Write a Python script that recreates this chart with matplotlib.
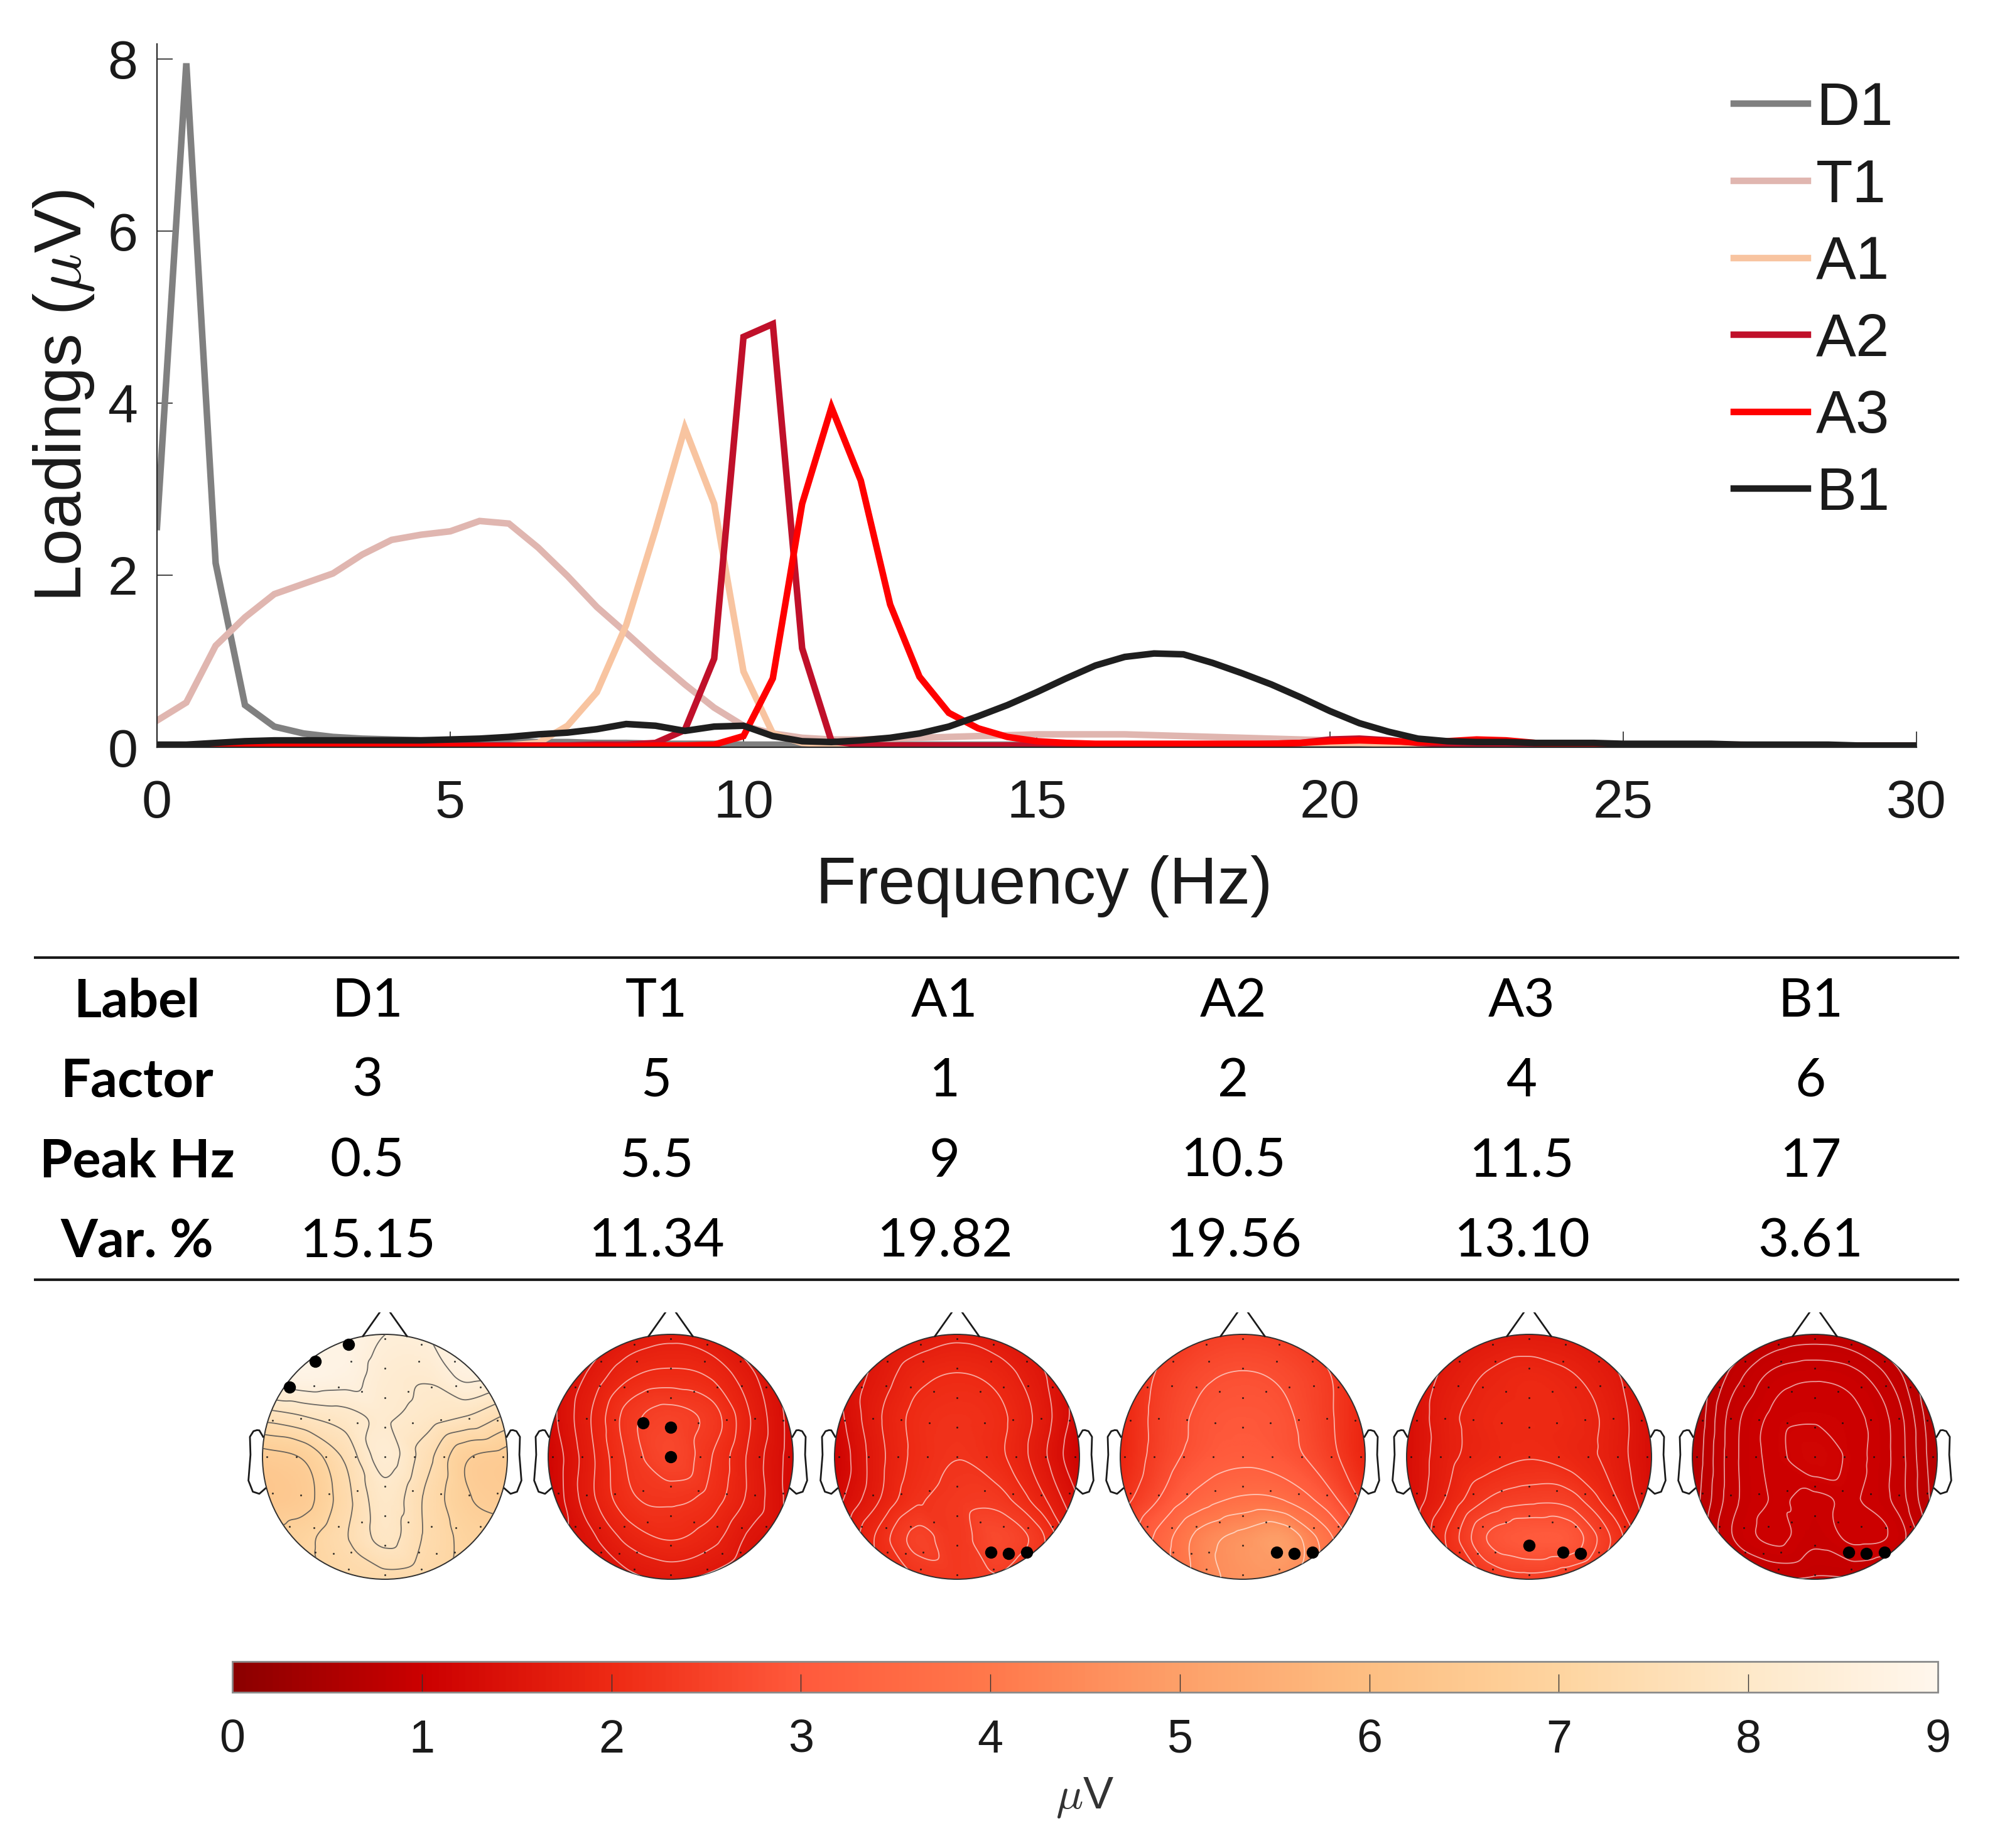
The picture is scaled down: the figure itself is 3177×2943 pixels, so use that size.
import numpy as np
import matplotlib
matplotlib.use('Agg')
import matplotlib.pyplot as plt
import matplotlib.tri as mtri
from matplotlib.colors import LinearSegmentedColormap, Normalize
from matplotlib.cm import ScalarMappable
from matplotlib.patches import Circle

W, H = 3177, 2943
plt.rcParams['font.family'] = ['Liberation Sans', 'DejaVu Sans']
plt.rcParams['mathtext.fontset'] = 'cm'

# ---------------- data ----------------
freq = np.arange(0, 30.01, 0.5)
series_names = ['D1', 'T1', 'A1', 'A2', 'A3', 'B1']
series_colors = ['#808080', '#e0b6b0', '#f8c4a0', '#c0102a', '#ff0000', '#1e1e1e']

D1 = [2.56, 7.95, 2.14, 0.49, 0.24, 0.16, 0.12, 0.10, 0.09, 0.08,
      0.08, 0.07, 0.07, 0.06, 0.06, 0.05, 0.05, 0.04, 0.04, 0.04,
      0.03, 0.03, 0.03, 0.03, 0.03, 0.03, 0.03, 0.03, 0.03, 0.03,
      0.03, 0.03, 0.03, 0.03, 0.03, 0.03, 0.03, 0.03, 0.03, 0.02,
      0.02, 0.02, 0.02, 0.02, 0.02, 0.02, 0.02, 0.02, 0.02, 0.02,
      0.02, 0.02, 0.02, 0.02, 0.02, 0.02, 0.01, 0.01, 0.01, 0.01, 0.01]
T1 = [0.31, 0.52, 1.18, 1.51, 1.78, 1.90, 2.02, 2.24, 2.41, 2.47,
      2.51, 2.63, 2.60, 2.32, 1.99, 1.63, 1.33, 1.02, 0.73, 0.46,
      0.25, 0.16, 0.11, 0.09, 0.09, 0.10, 0.11, 0.12, 0.13, 0.14,
      0.15, 0.15, 0.15, 0.15, 0.14, 0.13, 0.12, 0.11, 0.10, 0.09,
      0.08, 0.07, 0.06, 0.05, 0.05, 0.04, 0.04, 0.04, 0.04, 0.03,
      0.03, 0.03, 0.03, 0.03, 0.03, 0.02, 0.02, 0.02, 0.02, 0.02, 0.02]
A1 = [0.01, 0.01, 0.01, 0.01, 0.01, 0.01, 0.01, 0.01, 0.01, 0.01,
      0.01, 0.01, 0.02, 0.05, 0.25, 0.64, 1.42, 2.53, 3.71, 2.83,
      0.88, 0.16, 0.05, 0.03, 0.02, 0.02, 0.02, 0.02, 0.02, 0.02,
      0.02, 0.02, 0.02, 0.02, 0.02, 0.02, 0.02, 0.03, 0.04, 0.05,
      0.05, 0.05, 0.04, 0.03, 0.02, 0.02, 0.02, 0.02, 0.02, 0.02,
      0.02, 0.02, 0.02, 0.02, 0.02, 0.02, 0.02, 0.02, 0.02, 0.02, 0.02]
A2 = [0.02, 0.02, 0.02, 0.02, 0.02, 0.02, 0.02, 0.02, 0.02, 0.02,
      0.02, 0.02, 0.02, 0.02, 0.02, 0.03, 0.03, 0.05, 0.20, 1.03,
      4.77, 4.92, 1.15, 0.07, 0.03, 0.02, 0.02, 0.02, 0.02, 0.02,
      0.02, 0.02, 0.02, 0.02, 0.02, 0.02, 0.03, 0.03, 0.04, 0.05,
      0.09, 0.10, 0.08, 0.05, 0.04, 0.03, 0.03, 0.02, 0.02, 0.02,
      0.02, 0.02, 0.02, 0.02, 0.02, 0.02, 0.02, 0.02, 0.02, 0.02, 0.02]
A3 = [0.01, 0.01, 0.01, 0.01, 0.01, 0.01, 0.01, 0.01, 0.01, 0.01,
      0.01, 0.01, 0.01, 0.01, 0.01, 0.01, 0.01, 0.02, 0.02, 0.03,
      0.13, 0.80, 2.83, 3.95, 3.10, 1.66, 0.82, 0.40, 0.22, 0.12,
      0.07, 0.05, 0.04, 0.04, 0.04, 0.04, 0.04, 0.04, 0.04, 0.05,
      0.07, 0.08, 0.07, 0.06, 0.07, 0.09, 0.08, 0.05, 0.03, 0.03,
      0.02, 0.02, 0.02, 0.02, 0.02, 0.02, 0.02, 0.02, 0.02, 0.02, 0.02]
B1 = [0.03, 0.03, 0.05, 0.07, 0.08, 0.08, 0.08, 0.08, 0.08, 0.08,
      0.09, 0.10, 0.12, 0.15, 0.17, 0.21, 0.27, 0.25, 0.19, 0.24,
      0.25, 0.13, 0.07, 0.06, 0.08, 0.11, 0.16, 0.24, 0.36, 0.49,
      0.64, 0.80, 0.95, 1.05, 1.09, 1.08, 0.98, 0.86, 0.73, 0.58,
      0.42, 0.28, 0.18, 0.10, 0.07, 0.06, 0.06, 0.05, 0.05, 0.05,
      0.04, 0.04, 0.04, 0.04, 0.03, 0.03, 0.03, 0.03, 0.02, 0.02, 0.02]
series_values = [D1, T1, A1, A2, A3, B1]

# table
row_headers = ['Label', 'Factor', 'Peak Hz', 'Var. %']
table_labels = ['D1', 'T1', 'A1', 'A2', 'A3', 'B1']
table_factor = ['3', '5', '1', '2', '4', '6']
table_peak = ['0.5', '5.5', '9', '10.5', '11.5', '17']
table_var = ['15.15', '11.34', '19.82', '19.56', '13.10', '3.61']

# topographies: 7x7 grids of amplitude (uV), rows front -> back, cols left -> right
topo_D1 = [[8.6, 8.7, 8.8, 8.5, 8.5, 8.6, 8.6],
           [8.7, 8.8, 8.7, 8.3, 8.2, 8.6, 8.5],
           [7.6, 7.8, 8.0, 8.2, 8.0, 7.8, 7.4],
           [6.6, 6.8, 7.5, 8.3, 7.6, 6.8, 6.6],
           [6.4, 6.6, 7.3, 8.0, 7.4, 6.8, 6.6],
           [6.8, 7.0, 7.4, 7.9, 7.4, 7.0, 6.9],
           [7.0, 7.0, 7.2, 7.3, 7.2, 7.0, 7.0]]
topo_T1 = [[1.20, 1.35, 1.60, 1.70, 1.60, 1.35, 1.20],
           [1.25, 1.60, 1.95, 2.05, 1.95, 1.60, 1.25],
           [1.25, 1.75, 2.30, 2.50, 2.30, 1.75, 1.25],
           [1.15, 1.70, 2.25, 2.60, 2.20, 1.70, 1.25],
           [1.15, 1.70, 2.15, 2.25, 2.10, 1.70, 1.25],
           [1.25, 1.50, 1.85, 2.00, 1.85, 1.50, 1.30],
           [1.25, 1.35, 1.50, 1.60, 1.50, 1.35, 1.25]]
topo_A1 = [[1.30, 1.45, 1.60, 1.70, 1.60, 1.45, 1.30],
           [1.30, 1.60, 1.90, 2.00, 1.90, 1.60, 1.30],
           [1.20, 1.70, 2.05, 2.15, 2.05, 1.70, 1.20],
           [1.10, 1.65, 2.05, 2.20, 2.05, 1.65, 1.10],
           [1.20, 1.70, 2.15, 2.30, 2.30, 1.85, 1.30],
           [1.40, 2.00, 2.50, 2.30, 2.65, 2.30, 1.50],
           [1.50, 1.90, 2.20, 2.30, 2.40, 2.00, 1.50]]
topo_A2 = [[1.8, 2.1, 2.40, 2.50, 2.40, 2.10, 1.8],
           [1.9, 2.4, 2.70, 2.80, 2.70, 2.40, 1.9],
           [1.9, 2.5, 2.85, 2.95, 2.85, 2.45, 1.9],
           [1.9, 2.55, 2.95, 3.10, 2.95, 2.55, 1.9],
           [2.1, 2.8, 3.40, 3.70, 3.60, 3.00, 2.2],
           [2.5, 3.4, 4.30, 4.70, 4.90, 3.90, 2.7],
           [2.7, 3.4, 4.30, 4.70, 4.70, 3.90, 2.9]]
topo_A3 = [[1.30, 1.45, 1.60, 1.65, 1.60, 1.45, 1.30],
           [1.35, 1.65, 1.85, 1.95, 1.85, 1.65, 1.35],
           [1.35, 1.75, 1.95, 2.00, 1.95, 1.75, 1.35],
           [1.35, 1.75, 1.95, 2.05, 1.95, 1.75, 1.35],
           [1.35, 1.85, 2.30, 2.45, 2.40, 1.90, 1.40],
           [1.45, 2.10, 2.80, 3.00, 2.95, 2.30, 1.50],
           [1.45, 1.90, 2.30, 2.45, 2.30, 1.95, 1.50]]
topo_B1 = [[0.60, 0.72, 0.82, 0.85, 0.82, 0.72, 0.60],
           [0.65, 0.85, 0.97, 1.00, 0.97, 0.85, 0.65],
           [0.68, 0.92, 1.03, 1.06, 1.03, 0.92, 0.68],
           [0.70, 0.93, 1.04, 1.14, 1.04, 0.93, 0.70],
           [0.72, 0.93, 1.02, 1.00, 1.02, 0.93, 0.72],
           [0.75, 0.95, 1.03, 0.97, 1.03, 0.99, 0.76],
           [0.70, 0.80, 0.88, 0.88, 0.88, 0.82, 0.70]]
topo_maps = [topo_D1, topo_T1, topo_A1, topo_A2, topo_A3, topo_B1]
topo_highlight = [['Fp1', 'AF7', 'F7'], ['FC1', 'FCz', 'Cz'], ['PO4', 'PO6', 'PO8'],
                  ['PO4', 'PO6', 'PO8'], ['POz', 'PO4', 'PO6'], ['PO4', 'PO6', 'PO8']]

cbar_ticks = list(range(10))
cmap_colors = ['#8b0000', '#cc0000', '#ee2a14', '#ff5a3c', '#ff784b',
               '#fda069', '#fdbe82', '#fed49f', '#fee8c8', '#fff6ec']

# ---------------- figure ----------------
fig = plt.figure(figsize=(W / 100, H / 100), dpi=100)


def px_axes(x0, y0, x1, y1):
    return fig.add_axes([x0 / W, 1 - y1 / H, (x1 - x0) / W, (y1 - y0) / H])


# line plot
ax = px_axes(250, 70, 3052, 1190)
for name, vals, col in zip(series_names, series_values, series_colors):
    ax.plot(freq, vals, color=col, lw=7.5, label=name, solid_joinstyle='miter')
ax.set_xlim(0, 30)
ax.set_ylim(0, 8.175)
ax.set_xticks([0, 5, 10, 15, 20, 25, 30])
ax.set_yticks([0, 2, 4, 6, 8])
for s in ['top', 'right']:
    ax.spines[s].set_visible(False)
for s in ['left', 'bottom']:
    ax.spines[s].set_linewidth(1.6)
    ax.spines[s].set_color('#262626')
ax.tick_params(axis='both', direction='in', length=18, width=1.2, colors='#262626',
               labelsize=62, labelcolor='#1a1a1a')
ax.tick_params(axis='x', pad=36)
ax.tick_params(axis='y', pad=22)
ax.set_ylabel(r'Loadings ($\mu$V)', fontsize=76, color='#1a1a1a')
ax.yaxis.set_label_coords(-0.0346, 0.5)
ax.set_xlabel('Frequency (Hz)', fontsize=76, color='#1a1a1a')
ax.xaxis.set_label_coords(0.504, -0.1536)
ax.patch.set_alpha(0)
leg = ax.legend(loc='upper left', bbox_to_anchor=(2761 / W, 1 - 129 / H),
                bbox_transform=fig.transFigure, frameon=False, fontsize=69,
                handlelength=1.23, handletextpad=0.14, labelspacing=0.34,
                borderpad=0, borderaxespad=0)
for t in leg.get_texts():
    t.set_color('#1a1a1a')

# table
tab = px_axes(0, 1500, W, 2060)
tab.set_xlim(0, W)
tab.set_ylim(2060, 1500)
tab.axis('off')
tab.plot([54, 3120], [1525, 1525], color='#1a1a1a', lw=3, solid_capstyle='butt')
tab.plot([54, 3120], [2038, 2038], color='#1a1a1a', lw=3, solid_capstyle='butt')
row_y = [1595, 1722, 1850, 1978]
col_x = [585, 1045, 1504, 1964, 2423, 2883]
header_x = 218
rows = [table_labels, table_factor, table_peak, table_var]
for ry, hdr, vals in zip(row_y, row_headers, rows):
    tab.text(header_x, ry, hdr, ha='center', va='center', fontsize=61,
             fontfamily=['Lato', 'DejaVu Sans'], fontweight='bold', color='black')
    for cx, v in zip(col_x, vals):
        tab.text(cx, ry, v, ha='center', va='center', fontsize=61,
                 fontfamily=['Lato', 'DejaVu Sans'], color='black')


# electrode montage (10-10 layout on a sphere, azimuthal projection)
def sph(theta, az):
    t, a = np.radians(theta), np.radians(az)
    return np.array([np.sin(t) * np.sin(a), np.sin(t) * np.cos(a), np.cos(t)])


def slerp(p, q, f):
    w = np.arccos(np.clip(np.dot(p, q), -1, 1))
    if w < 1e-9:
        return p
    return (np.sin((1 - f) * w) * p + np.sin(f * w) * q) / np.sin(w)


def proj(v, R=0.965, edge=72.0):
    theta = np.degrees(np.arccos(np.clip(v[2], -1, 1)))
    az = np.arctan2(v[0], v[1])
    rho = theta / edge * R
    return rho * np.sin(az), rho * np.cos(az)


row_prefix = {4: 'Fp', 3: 'AF', 2: 'F', 1: 'FC', 0: 'C', -1: 'CP', -2: 'P', -3: 'PO', -4: 'O'}
edge_prefix = {1: 'FT', 0: 'T', -1: 'TP'}
row_js = {4: [0, 4], 3: [0, 2, 4], 2: [0, 1, 2, 3, 4], 1: [0, 1, 2, 3, 4], 0: [0, 1, 2, 3, 4],
          -1: [0, 1, 2, 3, 4], -2: [0, 1, 2, 3, 4], -3: [0, 2, 3, 4], -4: [0, 4]}
electrodes = {}
for k in range(-4, 5):
    mid = sph(18 * abs(k), 0 if k >= 0 else 180)
    for side in (1, -1):
        edge = sph(72, side * (90 - 18 * k))
        for j in row_js[k]:
            p = slerp(mid, edge, j / 4.0)
            x, y = proj(p)
            if j == 0:
                name = row_prefix[k] + 'z'
            else:
                num = j if abs(k) < 4 else 1
                num = 2 * num - 1 if side < 0 else 2 * num
                pre = edge_prefix.get(k, row_prefix[k]) if j == 4 else row_prefix[k]
                name = pre + str(num)
            electrodes[name] = (x, y)

cmap = LinearSegmentedColormap.from_list('topo', list(zip(np.linspace(0, 1, 10), cmap_colors)))
norm = Normalize(0, 9)

gx = np.linspace(-1, 1, 7)
GX, GY = np.meshgrid(gx, gx[::-1])
tris = []
for i in range(6):
    for j in range(6):
        a = i * 7 + j
        tris.append([a, a + 1, a + 8])
        tris.append([a, a + 8, a + 7])
triang = mtri.Triangulation(GX.ravel(), GY.ravel(), np.array(tris))
fx = np.linspace(-1, 1, 261)
FX, FY = np.meshgrid(fx, fx)
inside = FX ** 2 + FY ** 2 <= 1.0

ear_x = np.array([.497, .510, .518, .5299, .5419, .54, .547, .532, .510, .489]) * 2
ear_y = np.array([.0555, .0775, .0783, .0746, .0555, -.0055, -.0932, -.1313, -.1384, -.1199]) * 2

head_cx = [613, 1068, 1524, 1979, 2435, 2890]
head_cy = 2320
rad = 195
for idx, (Z, hl) in enumerate(zip(topo_maps, topo_highlight)):
    cx = head_cx[idx]
    hax = px_axes(cx - 1.25 * rad, head_cy - 1.18 * rad, cx + 1.25 * rad, head_cy + 1.25 * rad)
    hax.set_xlim(-1.25, 1.25)
    hax.set_ylim(-1.25, 1.18)
    hax.axis('off')
    interp = mtri.CubicTriInterpolator(triang, np.array(Z, float).ravel(), kind='geom')
    F = np.asarray(interp(FX, FY).filled(np.nan))
    clip = Circle((0, 0), 1.0, transform=hax.transData)
    im = hax.imshow(F, origin='lower', extent=(-1, 1, -1, 1), cmap=cmap, norm=norm,
                    interpolation='bilinear')
    im.set_clip_path(clip)
    vals_in = F[inside]
    levels = np.linspace(np.nanmin(vals_in), np.nanmax(vals_in), 8)[1:-1]
    if idx == 0:
        cs = hax.contour(FX, FY, F, levels=levels, colors='#505050', linewidths=1.3, alpha=0.85)
    else:
        cs = hax.contour(FX, FY, F, levels=levels, colors='white', linewidths=1.3, alpha=0.6)
    cs.set_clip_path(Circle((0, 0), 1.0, transform=hax.transData))
    hax.add_patch(Circle((0, 0), 1.0, fill=False, ec='#303030', lw=1.4))
    # nose and ears
    hax.plot([-0.18, 0, 0.18], [0.985, 1.24, 0.985], color='#1a1a1a', lw=2)
    ex = 0.99 + (ear_x - 0.99) * 1.2
    ey = ear_y * 1.2 + 0.03
    hax.plot(ex, ey, color='#1a1a1a', lw=2)
    hax.plot(-ex, ey, color='#1a1a1a', lw=2)
    exy = np.array(list(electrodes.values()))
    hax.plot(exy[:, 0], exy[:, 1], 'o', ms=2.2, color='#111111', mew=0, alpha=0.8)
    hxy = np.array([electrodes[n] for n in hl])
    hax.plot(hxy[:, 0], hxy[:, 1], 'o', ms=14, color='black', mew=0)

# colorbar
cax = px_axes(370, 2646, 3086, 2695)
cb = fig.colorbar(ScalarMappable(norm=norm, cmap=cmap), cax=cax, orientation='horizontal',
                  ticks=cbar_ticks)
cb.outline.set_edgecolor('#8a8a8a')
cb.outline.set_linewidth(2)
cax.tick_params(axis='x', direction='in', length=21, width=1.0, colors='#333333',
                labelsize=53, labelcolor='#1a1a1a', pad=30)
fig.text(1728 / W, 1 - 2863 / H, r'$\mu$V', ha='center', va='center', fontsize=52,
         color='#333333')

fig.savefig('out.png', dpi=100)
